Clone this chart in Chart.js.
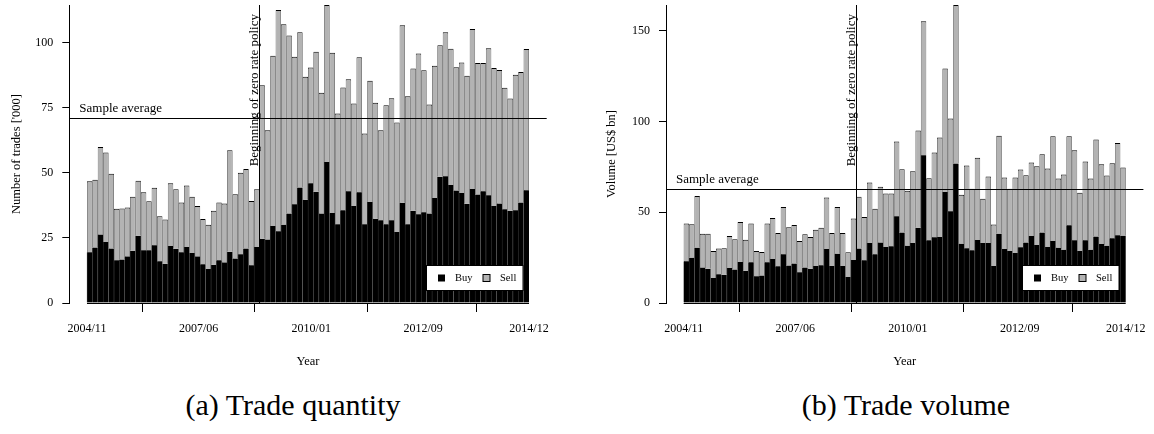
<!DOCTYPE html>
<html>
<head>
<meta charset="utf-8">
<script src="https://cdn.jsdelivr.net/npm/chart.js@4.4.0/dist/chart.umd.min.js"></script>
<style>
  body { margin: 0; background: #fff; width: 1154px; height: 434px; position: relative; overflow: hidden; font-family: "Liberation Serif", serif; }
  canvas { position: absolute; top: 0; }
  #trades { left: 0; }
  #volume { left: 577px; }
  .cap { position: absolute; top: 388px; width: 400px; text-align: center; font-size: 30px; color: #000; }
</style>
</head>
<body>
<canvas id="trades" width="577" height="380"></canvas>
<canvas id="volume" width="577" height="380"></canvas>
<div class="cap" style="left:93px">(a) Trade quantity</div>
<div class="cap" style="left:706px">(b) Trade volume</div>
<script>
// x tick labels (first bar .. last bar)
const tickLabels = ['2004/11', '2007/06', '2010/01', '2012/09', '2014/12'];
const seriesNames = ['Buy', 'Sell'];

// number of trades ['000]
const tradesBuy = [19.5, 21.3, 26.3, 23.4, 20.9, 16.4, 16.7, 17.9, 20.1, 25.8, 20.3, 20.3, 22.2, 16.0, 15.1, 21.9, 20.8, 19.5, 21.5, 19.2,
  17.9, 14.9, 13.1, 14.7, 16.4, 15.6, 19.7, 17.1, 18.7, 20.9, 14.5, 21.5, 24.7, 24.4, 29.6, 27.6, 30.1, 34.4, 37.9, 44.4,
  39.7, 46.0, 42.7, 34.4, 54.2, 34.6, 30.3, 35.6, 42.9, 37.3, 42.6, 30.3, 38.8, 32.4, 31.8, 30.3, 31.8, 27.3, 38.5, 30.3,
  35.4, 34.1, 34.9, 34.4, 40.3, 48.5, 48.7, 45.3, 43.2, 42.3, 38.1, 43.8, 41.7, 42.9, 41.4, 37.3, 38.2, 36.0, 35.4, 35.6,
  38.6, 43.3];
const tradesSell = [27.3, 26.1, 33.6, 34.4, 28.8, 19.8, 19.6, 18.8, 20.7, 21.2, 22.3, 18.8, 22.1, 17.3, 17.0, 24.1, 22.9, 19.1, 23.6, 21.6,
  19.4, 17.4, 17.0, 20.7, 22.2, 22.6, 39.0, 24.7, 31.3, 30.6, 24.7, 22.2, 59.0, 42.0, 65.4, 85.0, 77.0, 68.4, 56.7, 59.6,
  47.2, 44.5, 53.8, 46.4, 60.3, 61.6, 42.5, 47.2, 43.1, 39.4, 51.8, 34.8, 46.6, 44.5, 34.6, 45.7, 46.9, 42.1, 68.2, 49.1,
  54.7, 61.8, 54.5, 41.9, 50.9, 50.5, 55.3, 52.4, 47.4, 50.1, 49.2, 61.5, 50.5, 49.3, 56.5, 53.0, 51.3, 46.7, 43.2, 52.1,
  50.2, 54.3];
const tradesAvg = 71.0;

// volume [US$ bn]
const volumeBuy = [23.0, 25.0, 30.5, 19.5, 18.9, 13.8, 15.8, 15.6, 19.3, 18.4, 22.6, 17.8, 22.4, 14.7, 15.1, 22.4, 24.3, 20.2, 26.8, 20.6,
  21.7, 16.9, 19.5, 18.9, 20.4, 20.8, 29.8, 20.4, 27.2, 20.4, 14.3, 23.7, 30.0, 23.5, 33.1, 26.8, 33.3, 30.9, 31.3, 47.8,
  38.8, 31.6, 33.1, 41.5, 81.4, 34.6, 36.2, 36.4, 61.2, 50.6, 76.8, 32.7, 30.1, 29.0, 34.7, 33.1, 33.1, 20.4, 38.2, 29.8,
  28.7, 27.6, 30.7, 33.3, 36.9, 32.0, 38.8, 30.9, 34.2, 30.5, 29.4, 42.8, 34.6, 28.7, 34.6, 29.4, 36.6, 32.5, 31.6, 35.7,
  37.3, 37.1];
const volumeSell = [20.8, 18.4, 28.5, 18.7, 19.3, 14.9, 14.2, 14.5, 17.6, 16.7, 22.1, 17.1, 21.4, 14.0, 13.0, 21.4, 22.6, 18.4, 26.1, 21.1,
  21.3, 17.3, 18.4, 17.5, 20.0, 20.6, 28.3, 18.2, 25.7, 18.2, 13.6, 22.8, 28.5, 23.9, 33.3, 25.2, 30.7, 29.4, 29.0, 41.2,
  34.9, 30.2, 39.5, 53.5, 73.9, 34.2, 46.7, 54.8, 68.0, 51.1, 87.4, 26.9, 45.6, 33.9, 45.3, 24.3, 36.6, 22.8, 53.9, 39.3,
  34.2, 41.5, 42.8, 37.1, 40.5, 43.4, 43.2, 43.2, 57.7, 38.1, 41.4, 49.1, 49.6, 32.1, 43.3, 39.2, 53.5, 44.0, 38.6, 41.3,
  50.9, 37.5];
const volumeAvg = 62.9;

// bar index where the zero rate policy starts
const zeroRateBar = 32;

// layout (pixels inside each 577x380 canvas)
const tickPos = [0, 20.7, 41.6, 62.35, 82];
const nBars = tradesBuy.length;
const ext = nBars * 0.04;
const FONT = 'Liberation Serif';
const GREY = '#b3b3b3';

const overlay = {
  id: 'overlay',
  afterDatasetsDraw(chart, args, opts) {
    const { ctx, chartArea: a, scales: { x, y } } = chart;
    ctx.save();
    ctx.strokeStyle = '#000';
    ctx.fillStyle = '#000';
    ctx.lineWidth = 1;

    // x axis line only between the outer ticks
    const yb = Math.round(a.bottom) + 0.5;
    ctx.beginPath();
    ctx.moveTo(x.getPixelForValue(tickPos[0]), yb);
    ctx.lineTo(x.getPixelForValue(tickPos[tickPos.length - 1]), yb);
    ctx.stroke();

    // sample average
    const ya = Math.round(y.getPixelForValue(opts.avg)) + 0.5;
    ctx.beginPath();
    ctx.moveTo(a.left, ya);
    ctx.lineTo(a.right, ya);
    ctx.stroke();
    ctx.font = '13px "' + FONT + '"';
    ctx.textAlign = 'left';
    ctx.textBaseline = 'alphabetic';
    ctx.fillText('Sample average', a.left + 10, ya - 7);

    // zero rate policy
    const xz = Math.round(x.getPixelForValue(zeroRateBar)) + 0.5;
    ctx.beginPath();
    ctx.moveTo(xz, a.top);
    ctx.lineTo(xz, a.bottom);
    ctx.stroke();
    ctx.save();
    ctx.translate(xz - 2, a.top + 9);
    ctx.rotate(-Math.PI / 2);
    ctx.textAlign = 'right';
    ctx.fillText('Beginning of zero rate policy', 0, 0);
    ctx.restore();

    // legend box
    const bw = 96.5, bh = 25;
    const bx = Math.round(a.right - 24.5 - bw) + 0.5;
    const by = Math.round(a.bottom - 13.5 - bh) + 0.5;
    ctx.fillStyle = '#fff';
    ctx.fillRect(bx, by, bw, bh);
    ctx.strokeRect(bx, by, bw, bh);
    const cy = by + bh / 2;
    ctx.fillStyle = '#000';
    ctx.fillRect(bx + 11.5, cy - 3.5, 7, 7);
    ctx.fillStyle = GREY;
    ctx.fillRect(bx + 56.5, cy - 3.5, 7, 7);
    ctx.strokeRect(bx + 56.5, cy - 3.5, 7, 7);
    ctx.fillStyle = '#000';
    ctx.font = '10.5px "' + FONT + '"';
    ctx.textBaseline = 'middle';
    ctx.fillText(seriesNames[0], bx + 28.5, cy + 0.5);
    ctx.fillText(seriesNames[1], bx + 73.5, cy + 0.5);
    ctx.restore();
  }
};

function makeChart(id, buy, sell, avg, yTicks, yTitle, padLeft, chartLeft, chartRight) {
  const totals = buy.map((b, i) => b + sell[i]);
  const yMax = Math.max(...totals);
  const W = 577, H = 380, chartBottom = 303;
  return new Chart(document.getElementById(id), {
    type: 'bar',
    data: {
      datasets: [
        {
          label: seriesNames[0],
          data: buy.map((v, i) => ({ x: i + 0.5, y: v })),
          backgroundColor: '#000',
          borderColor: '#3c3c3c',
          borderWidth: { left: 0.6, right: 0, top: 0, bottom: 0 },
          inflateAmount: 0.3
        },
        {
          label: seriesNames[1],
          data: sell.map((v, i) => ({ x: i + 0.5, y: v })),
          backgroundColor: GREY,
          borderColor: '#000',
          borderWidth: { left: 0.6, right: 0.6, top: 1, bottom: 0 },
          inflateAmount: 0
        }
      ]
    },
    options: {
      responsive: false,
      animation: false,
      devicePixelRatio: 1,
      layout: { padding: { left: padLeft, right: W - chartRight, top: 5, bottom: 0 } },
      datasets: { bar: { barPercentage: 1, categoryPercentage: 1 } },
      plugins: {
        legend: { display: false },
        tooltip: { enabled: false },
        overlay: { avg: avg }
      },
      scales: {
        x: {
          type: 'linear',
          stacked: true,
          offset: false,
          min: -ext,
          max: nBars + ext,
          afterBuildTicks: s => { s.ticks = tickPos.map(v => ({ value: v })); },
          afterFit: s => { s.height = H - chartBottom; s.paddingLeft = 0; s.paddingRight = 0; },
          ticks: {
            autoSkip: false,
            maxRotation: 0,
            color: '#000',
            padding: 10,
            font: { family: FONT, size: 12 },
            callback: (v, i) => tickLabels[i]
          },
          grid: { drawOnChartArea: false, drawTicks: true, tickLength: 9, color: '#000' },
          border: { display: false },
          title: {
            display: true,
            text: 'Year',
            color: '#000',
            font: { family: FONT, size: 12.5 },
            padding: { top: 0, bottom: 11 }
          }
        },
        y: {
          stacked: true,
          min: 0,
          max: yMax,
          afterBuildTicks: s => { s.ticks = yTicks.map(v => ({ value: v })); },
          afterFit: s => { s.width = chartLeft - padLeft; s.paddingTop = 0; s.paddingBottom = 0; },
          ticks: { color: '#000', padding: 9, font: { family: FONT, size: 12 } },
          grid: { drawOnChartArea: false, drawTicks: true, tickLength: 7, color: '#000' },
          border: { display: true, color: '#000', width: 1 },
          title: {
            display: true,
            text: yTitle,
            color: '#000',
            font: { family: FONT, size: 12.5 },
            padding: 0
          }
        }
      }
    },
    plugins: [overlay]
  });
}

makeChart('trades', tradesBuy, tradesSell, tradesAvg, [0, 25, 50, 75, 100], "Number of trades ['000]", 9, 69.3, 546.7);
makeChart('volume', volumeBuy, volumeSell, volumeAvg, [0, 50, 100, 150], 'Volume [US$ bn]', 27, 89, 566.4);
</script>
</body>
</html>
